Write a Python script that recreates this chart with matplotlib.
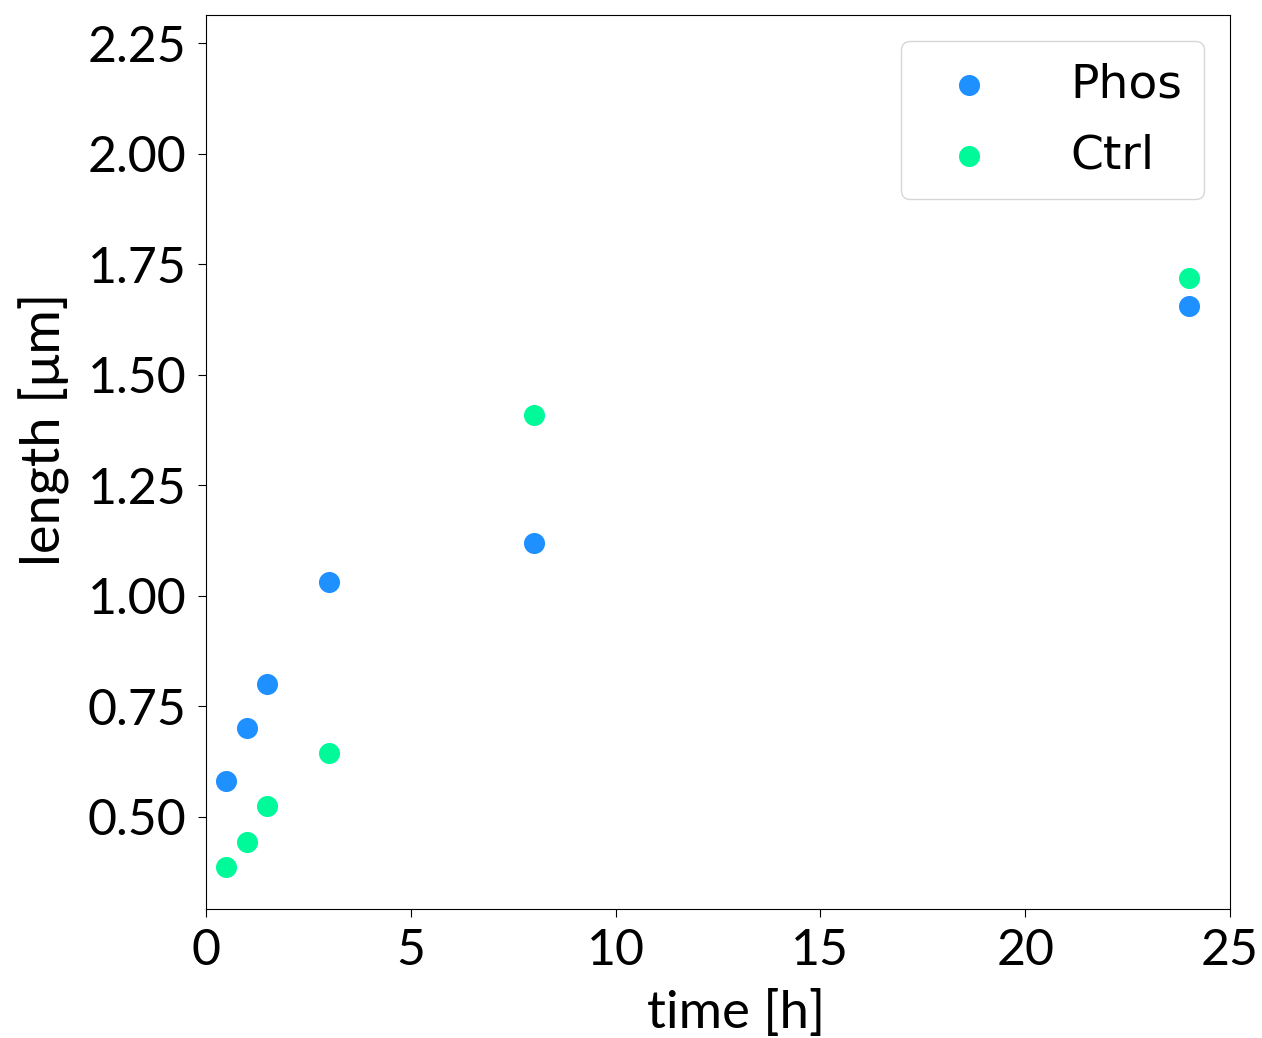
import matplotlib.pyplot as plt

time_h = [0.5, 1, 1.5, 3, 8, 24]
phos_len = [0.58, 0.70, 0.80, 1.03, 1.12, 1.655]
ctrl_len = [0.385, 0.443, 0.525, 0.643, 1.41, 1.718]


def main():
    plt.rcParams['font.family'] = ['Lato', 'DejaVu Sans']
    fig = plt.figure(figsize=(12.62, 10.38), dpi=100)
    ax = fig.add_axes([0.1632, 0.1243, 0.8114, 0.8612])

    ax.scatter(time_h, phos_len, s=200, color='#1E90FF', label='Phos', zorder=3)
    ax.scatter(time_h, ctrl_len, s=200, color='#00FA9A', label='Ctrl', zorder=3)

    ax.set_xlim(0, 25)
    ax.set_ylim(0.291, 2.314)
    ax.set_xticks([0, 5, 10, 15, 20, 25])
    ax.set_yticks([0.5, 0.75, 1.0, 1.25, 1.5, 1.75, 2.0, 2.25])
    ax.tick_params(labelsize=36, length=6, pad=8)

    ax.set_xlabel('time [h]', fontsize=38)
    ax.set_ylabel('length [μm]', fontsize=39)
    ax.xaxis.set_label_coords(0.518, -0.09)
    ax.yaxis.set_label_coords(-0.133, 0.536)

    ax.legend(prop={'family': 'DejaVu Sans', 'size': 34}, handletextpad=1.15,
              borderpad=0.45, labelspacing=0.55, borderaxespad=0.55,
              loc='upper right')

    fig.savefig('out.png', dpi=100)
    return


if __name__ == '__main__':
    main()
